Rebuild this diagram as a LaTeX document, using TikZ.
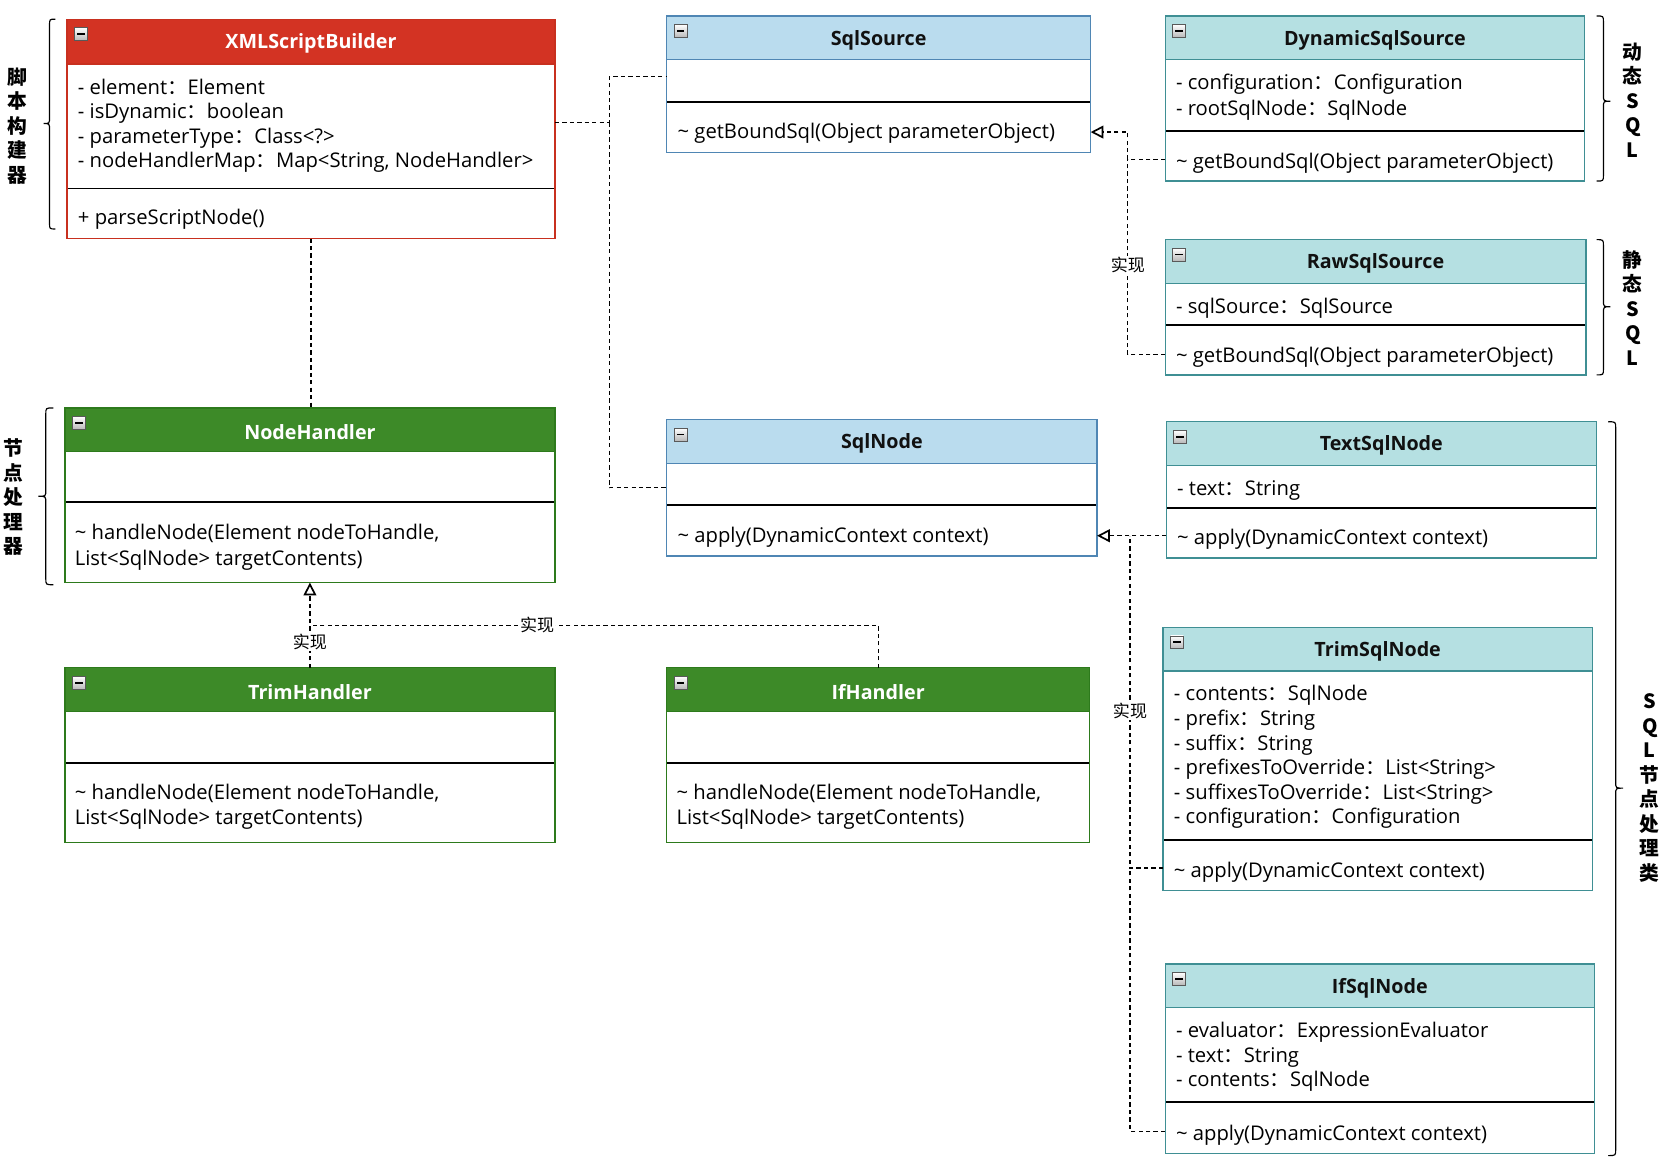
\documentclass[tikz,border=0pt]{standalone}
\usepackage{fontspec}
\setmainfont{Open Sans}
\newfontfamily\cjk{Noto Sans CJK SC}
\usetikzlibrary{arrows.meta}
\definecolor{redF}{HTML}{D33323}
\definecolor{redB}{HTML}{C8301F}
\definecolor{redT}{HTML}{FFFFFF}
\definecolor{greenF}{HTML}{3D8A28}
\definecolor{greenB}{HTML}{2D7A1C}
\definecolor{greenT}{HTML}{FFFFFF}
\definecolor{blueF}{HTML}{BADCEE}
\definecolor{blueB}{HTML}{4F86B4}
\definecolor{blueT}{HTML}{111111}
\definecolor{tealF}{HTML}{B5E0E2}
\definecolor{tealB}{HTML}{3F8F94}
\definecolor{tealT}{HTML}{111111}
\newcommand\fc{{\cjk ：}}
\newcommand\umlbox[9]{%
  \node[inner sep=0, outer sep=0, minimum width={#4-#2}, minimum height={#5-#3}, anchor=north west] (#1) at (#2,#3) {};
  \fill[#8F] (#2,#3) rectangle (#4,#6);
  \draw[#8B, line width=1.2pt] (#2,#6) -- (#4,#6);
  \draw[line width=1.8pt] (#2,#7) -- (#4,#7);
  \draw[#8B, line width=1.2pt] (#1.north west) rectangle (#1.south east);
  \node[minusicon] (#1-m) at ({#2+13},{#3+14}) {};
  \draw[line width=1.6pt] ([xshift=-3.5]#1-m.center) -- ([xshift=3.5]#1-m.center);
  \node[titlefont, text=#8T] (#1-t) at ({(#2+#4)/2},{(#3+#6)/2+2}) {#9};
}
\newcommand\utext[4]{\node[attr] (#1) at (#2,#3) {#4};}
\newcommand\bracel[5]{% xends, xtip, ytop, ybot, ymid
  \draw[line width=1.1pt] (#1,#3) .. controls ({(#1+#2)/2},#3) .. ({(#1+#2)/2},{#3+6})
    -- ({(#1+#2)/2},{#5-6}) .. controls ({(#1+#2)/2},#5) .. (#2,#5)
    .. controls ({(#1+#2)/2},#5) .. ({(#1+#2)/2},{#5+6})
    -- ({(#1+#2)/2},{#4-6}) .. controls ({(#1+#2)/2},#4) .. (#1,#4);}
\tikzset{
  attr/.style={anchor=west, inner sep=0, font=\fontsize{19}{22}\selectfont, text height=15pt, text depth=2pt},
  titlefont/.style={inner sep=0, font=\fontsize{18.5}{22}\selectfont\bfseries},
  minusicon/.style={draw=gray!70!black, line width=0.6pt, minimum size=12pt, inner sep=0, top color=white, bottom color=gray!55},
  dep/.style={draw, line width=1.1pt, dash pattern=on 4pt off 3pt},
  real/.style={dep, -{Triangle[open, length=12pt, width=12pt, line width=1.6pt]}},
  lbl/.style={font=\cjk\fontsize{16}{18}\selectfont, fill=white, inner sep=1pt},
  vlab/.style={font=\cjk\bfseries\fontsize{18.5}{23}\selectfont, align=center, inner sep=0}
}
\begin{document}
\begin{tikzpicture}[x=1pt,y=-1pt]
\useasboundingbox (0,0) rectangle (1568,1097);
\fill[white] (0,0) rectangle (1568,1097);

% row coordinates
\coordinate (r72) at (0,72);
\coordinate (r124) at (0,124);
\coordinate (r150) at (0,150);
\coordinate (r333) at (0,333);
\coordinate (r503) at (0,503);
\coordinate (r587) at (0,587);
\coordinate (r815) at (0,815);
\coordinate (r1062) at (0,1062);
\coordinate (ja) at (572,115);
\coordinate (xd) at (1059,0);
\coordinate (xe) at (1061,0);

\umlbox{xml}{63}{18}{521}{224}{60}{177}{red}{XMLScriptBuilder}
\utext{xml-1}{73}{82}{- element\fc Element}
\utext{xml-2}{73}{105}{- isDynamic\fc boolean}
\utext{xml-3}{73}{128}{- parameterType\fc Class<?>}
\utext{xml-4}{73}{151}{- nodeHandlerMap\fc Map<String, NodeHandler>}
\utext{xml-5}{73}{204}{+ parseScriptNode()}

\umlbox{sqlsrc}{626}{15}{1024}{143}{56}{96}{blue}{SqlSource}
\utext{sqlsrc-1}{636}{124}{\textasciitilde{} getBoundSql(Object parameterObject)}

\umlbox{dyn}{1094}{15}{1488}{170}{56}{123}{teal}{DynamicSqlSource}
\utext{dyn-1}{1104}{78}{- configuration\fc Configuration}
\utext{dyn-2}{1104}{102}{- rootSqlNode\fc SqlNode}
\utext{dyn-3}{1104}{152}{\textasciitilde{} getBoundSql(Object parameterObject)}

\umlbox{raw}{1094}{225}{1489}{352}{266}{305}{teal}{RawSqlSource}
\utext{raw-1}{1104}{288}{- sqlSource\fc SqlSource}
\utext{raw-2}{1104}{334}{\textasciitilde{} getBoundSql(Object parameterObject)}

\umlbox{nodeh}{61}{383}{521}{547}{424}{471}{green}{NodeHandler}
\utext{nodeh-1}{70}{500}{\textasciitilde{} handleNode(Element nodeToHandle,}
\utext{nodeh-2}{70}{524}{List<SqlNode> targetContents)}

\umlbox{sqlnode}{626}{394}{1030}{522}{435}{474}{blue}{SqlNode}
\utext{sqlnode-1}{636}{503}{\textasciitilde{} apply(DynamicContext context)}

\umlbox{textn}{1095}{396}{1499}{524}{437}{477}{teal}{TextSqlNode}
\utext{textn-1}{1105}{459}{- text\fc String}
\utext{textn-2}{1105}{505}{\textasciitilde{} apply(DynamicContext context)}

\umlbox{trimh}{61}{627}{521}{791}{668}{716}{green}{TrimHandler}
\utext{trimh-1}{70}{744}{\textasciitilde{} handleNode(Element nodeToHandle,}
\utext{trimh-2}{70}{768}{List<SqlNode> targetContents)}

\umlbox{ifh}{626}{627}{1023}{791}{668}{716}{green}{IfHandler}
\utext{ifh-1}{635}{744}{\textasciitilde{} handleNode(Element nodeToHandle,}
\utext{ifh-2}{635}{768}{List<SqlNode> targetContents)}

\umlbox{trimn}{1092}{589}{1495}{836}{630}{789}{teal}{TrimSqlNode}
\utext{trimn-1}{1102}{651}{- contents\fc SqlNode}
\utext{trimn-2}{1102}{675}{- prefix\fc String}
\utext{trimn-3}{1102}{698}{- suffix\fc String}
\utext{trimn-4}{1102}{721}{- prefixesToOverride\fc List<String>}
\utext{trimn-5}{1102}{744}{- suffixesToOverride\fc List<String>}
\utext{trimn-6}{1102}{767}{- configuration\fc Configuration}
\utext{trimn-7}{1102}{817}{\textasciitilde{} apply(DynamicContext context)}

\umlbox{ifn}{1094}{905}{1497}{1083}{946}{1035}{teal}{IfSqlNode}
\utext{ifn-1}{1104}{968}{- evaluator\fc ExpressionEvaluator}
\utext{ifn-2}{1104}{991}{- text\fc String}
\utext{ifn-3}{1104}{1014}{- contents\fc SqlNode}
\utext{ifn-4}{1104}{1064}{\textasciitilde{} apply(DynamicContext context)}

% associations / realizations
\draw[dep] (ja -| xml.east) -- (ja) |- (r72 -| sqlsrc.west);
\draw[dep] (ja) |- (sqlnode.west);
\draw[dep] (xml.south) -- (xml.south |- nodeh.north);
\draw[real] (trimh.north) -- (trimh.north |- nodeh.south) node[lbl, pos=0.3] (l1) {实现};
\draw[dep] (ifh.north) |- (trimh.north |- r587) node[lbl, pos=0.8] (l2) {实现};
\draw[real] (dyn.west |- r150) -| (xd |- r124) -- (sqlsrc.east |- r124);
\draw[dep] (raw.west |- r333) -| (xd |- r150) node[lbl, pos=0.73] (l3) {实现};
\draw[real] (textn.west |- r503) -- (sqlnode.east |- r503);
\draw[dep] (trimn.west |- r815) -| (xe |- r503) node[lbl, pos=0.736] (l4) {实现};
\draw[dep] (ifn.west |- r1062) -| (xe |- r815);

% braces
\bracel{52}{41}{18}{215}{116}
\bracel{50}{36}{383}{549}{466}
\bracel{1499}{1512}{15}{170}{95}
\bracel{1499}{1512}{225}{352}{288}
\bracel{1510}{1524}{396}{1085}{740}

% vertical labels
\node[vlab] (v1) at (16,118) {脚\\本\\构\\建\\器};
\node[vlab] (v2) at (13,467) {节\\点\\处\\理\\器};
\node[vlab] (v3) at (1533,94) {动\\态\\S\\Q\\L};
\node[vlab] (v4) at (1533,289) {静\\态\\S\\Q\\L};
\node[vlab] (v5) at (1549,740) {S\\Q\\L\\节\\点\\处\\理\\类};
\end{tikzpicture}
\end{document}
